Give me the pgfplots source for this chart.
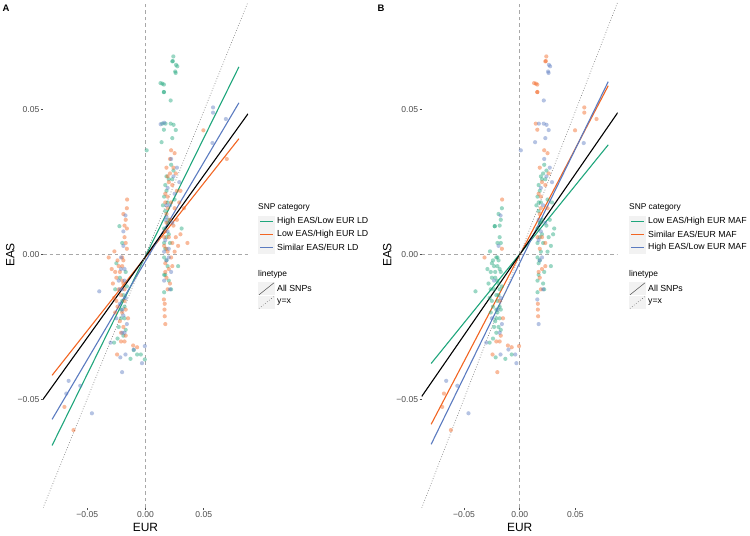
\documentclass[border=0pt]{standalone}
\usepackage{pgfplots}
\pgfplotsset{compat=1.18}
\usepackage{fontspec}
\setmainfont{Liberation Sans}
\definecolor{mygreen}{HTML}{1FA67C}
\definecolor{myorange}{HTML}{F26522}
\definecolor{myblue}{HTML}{5B7BC0}
\definecolor{tk}{HTML}{4D4D4D}
\definecolor{zl}{HTML}{A8A8A8}
\definecolor{kb}{HTML}{F2F2F2}
\pgfplotsset{
  panel/.style={
    scale only axis, anchor=south west,
    xmin=-0.088, xmax=0.088, ymin=-0.0875, ymax=0.0872,
    axis x line*=bottom, axis y line*=left,
    axis line style={draw=none},
    scaled ticks=false,
    xtick={-0.05,0,0.05}, xticklabels={−0.05,0.00,0.05},
    ytick={-0.05,0,0.05}, yticklabels={−0.05,0.00,0.05},
    tick align=outside, major tick length=2.2bp,
    tick style={color=tk, line width=0.5bp},
    ticklabel style={font=\fontsize{8.6}{10}\selectfont, text=tk},
    yticklabel style={inner sep=1.2bp},
    xticklabel style={inner sep=1.5bp},
    xlabel={EUR}, ylabel={EAS},
    label style={font=\fontsize{12}{14}\selectfont},
    xlabel style={at={(axis description cs:0.5,-0.038)}, anchor=center},
    pts/.style={only marks, mark=*, mark size=2.1bp, mark options={draw opacity=0, fill opacity=0.45}},
    fitl/.style={line width=1.1bp},
    zero/.style={color=zl, line width=0.5bp, dash pattern=on 3.5bp off 3bp},
    idl/.style={color=black!45, line width=0.7bp, dash pattern=on 0.8bp off 1.8bp},
  },
}
\newcommand{\legtitle}[3]{\node[anchor=west, inner sep=0, font=\fontsize{8.4}{10}\selectfont] at (#1bp,#2bp) {#3};}
\newcommand{\legtext}[3]{\node[anchor=west, inner sep=0, font=\fontsize{8.8}{10}\selectfont] at (#1bp,#2bp) {#3};}
\begin{document}
\begin{tikzpicture}
\useasboundingbox (0,0) rectangle (750bp,536bp);
% ---------------- Panel A ----------------
\begin{axis}[panel, at={(43bp,28bp)}, width=205bp, height=506bp,
  ylabel style={at={(axis description cs:-0.16,0.5)}, anchor=center}]
\addplot[zero] coordinates {(0,-0.0875) (0,0.0872)};
\addplot[zero] coordinates {(-0.088,0) (0.088,0)};
% green: High EAS/Low EUR LD
\addplot[pts, mygreen] coordinates {
(0.0239,0.0684)(0.023,0.0667)(0.0235,0.0668)(0.0273,0.065)(0.0262,0.0655)(0.0259,0.0627)(0.0255,0.0632)
(0.0129,0.0592)(0.0145,0.059)(0.0158,0.0587)(0.0158,0.0561)(0.0158,0.0561)(0.0216,0.0532)
(0.0144,0.0452)(0.0172,0.0452)(0.0216,0.0452)(0.0241,0.0448)(0.0158,0.0431)(0.026,0.043)(0.023,0.0402)(0.0138,0.0388)(0.001,0.036)
(0.022,0.031)(0.024,0.029)(0.02,0.026)(0.018,0.022)(0.016,0.02)(0.019,0.018)(0.017,0.015)(0.02,0.012)(0.016,0.009)
(0.018,0.006)(0.021,0.004)(0.017,0.002)(0.016,-0.001)(0.019,-0.004)(0.017,-0.007)(0.02,-0.009)(0.022,-0.012)(0.016,-0.013)
(0.031,0.009)(0.028,-0.004)(0.016,-0.007)
(0.017,0.024)(0.018,0.027)(0.015,0.017)(0.019,0.011)(0.016,0.004)(0.018,-0.002)(0.02,0.007)(0.025,0.019)(0.023,0.026)
(-0.0224,0.0098)(-0.02,0.004)(-0.025,-0.003)(-0.022,-0.008)(-0.019,-0.014)(-0.018,-0.018)(-0.021,-0.022)(-0.017,-0.026)
(-0.024,-0.029)(-0.02,-0.016)(-0.016,-0.011)
(-0.021,-0.019)(-0.019,-0.028)(-0.023,-0.025)(-0.018,-0.022)(-0.026,-0.012)(-0.017,-0.006)
(-0.027,-0.0304)(-0.0072,-0.0345)(-0.0101,-0.033)(-0.0006,-0.0362)(-0.004,-0.0345)(-0.0129,-0.036)
};
% orange: Low EAS/High EUR LD
\addplot[pts, myorange] coordinates {
(0.022,0.036)(0.025,0.035)(0.021,0.033)(0.024,0.03)(0.026,0.028)(0.02,0.025)(0.023,0.024)(0.027,0.022)(0.019,0.02)
(0.022,0.018)(0.025,0.016)(0.018,0.014)(0.021,0.012)(0.024,0.01)(0.017,0.008)(0.02,0.006)(0.023,0.004)(0.016,0.003)
(0.019,0.001)(0.022,-0.001)(0.017,-0.003)(0.02,-0.005)(0.018,-0.008)(0.021,-0.01)(0.0158,-0.0155)(0.0163,-0.019)
(0.0165,-0.0213)(0.017,-0.024)(0.036,0.004)(0.03,0.007)(0.028,0.003)(0.033,0.016)(0.03,0.022)(0.0497,0.0429)(0.0698,0.033)(0.027,0.012)
(0.018,0.03)(0.019,0.027)(0.017,0.018)(0.019,0.016)(0.018,0.011)(0.016,0.006)(0.018,0.002)(0.017,-0.006)(0.019,-0.012)
(0.023,-0.004)(0.026,0.006)(0.025,0.001)(0.029,0.018)(0.021,0.028)(0.017,0.021)(0.0165,-0.017)
(-0.0158,0.019)(-0.016,0.016)(-0.017,0.012)(-0.016,0.009)(-0.018,0.006)(-0.0267,0.0011)(-0.0316,-0.001)(-0.024,-0.002)
(-0.02,-0.004)(-0.022,-0.006)(-0.025,-0.008)(-0.019,-0.01)(-0.023,-0.012)(-0.021,-0.014)(-0.018,-0.016)(-0.024,-0.018)
(-0.02,-0.02)(-0.022,-0.023)(-0.019,-0.025)(-0.017,-0.028)(-0.021,-0.03)(-0.026,-0.006)(-0.028,-0.01)(-0.027,-0.015)
(-0.015,-0.022)(-0.016,0.002)
(-0.019,0.014)(-0.018,0.01)(-0.017,0.004)(-0.019,-0.002)(-0.018,-0.012)(-0.017,-0.019)(-0.02,-0.009)(-0.023,-0.004)
(-0.021,-0.027)(-0.025,-0.016)(-0.029,-0.005)(-0.026,-0.02)(-0.018,-0.03)(-0.02,-0.001)
(-0.0106,-0.0314)(-0.0072,-0.032)(-0.0244,-0.0345)
(-0.0696,-0.0526)(-0.0618,-0.0606)
};
% blue: Similar EAS/EUR LD
\addplot[pts, myblue] coordinates {
(0.022,0.033)(0.024,0.027)(0.019,0.023)(0.021,0.017)(0.018,0.013)(0.023,0.011)(0.017,0.005)(0.02,0.002)(0.018,-0.002)
(0.022,-0.006)(0.016,-0.009)(0.021,-0.012)(0.013,0.045)(0.016,0.0455)(0.027,0.03)(0.029,0.025)
(0.017,0.012)(0.019,0.008)(0.018,0.017)(0.02,-0.001)(0.016,0.001)(0.025,0.021)
(0.058,0.0508)(0.058,0.049)(0.069,0.0468)(0.0575,0.0385)
(-0.0172,0.0135)(-0.019,0.003)(-0.021,-0.001)(-0.018,-0.005)(-0.023,-0.009)(-0.02,-0.012)(-0.017,-0.015)(-0.022,-0.017)
(-0.019,-0.021)(-0.016,-0.024)(-0.02,-0.027)(-0.0397,-0.0127)(-0.025,-0.022)
(-0.018,-0.009)(-0.021,-0.005)(-0.02,-0.019)(-0.018,-0.027)(-0.022,-0.012)(-0.019,0.008)
(-0.030,-0.0304)(-0.0216,-0.0355)(-0.0172,-0.0345)(-0.0101,-0.0328)(-0.0006,-0.0316)(-0.0201,-0.0406)(-0.003,-0.0375)
(-0.066,-0.0436)(-0.068,-0.048)(-0.056,-0.0453)(-0.046,-0.0548)
};
\addplot[fitl, mygreen] coordinates {(-0.0802,-0.0659) (0.0802,0.0648)};
\addplot[fitl, myorange] coordinates {(-0.0802,-0.0417) (0.0802,0.0400)};
\addplot[fitl, myblue] coordinates {(-0.0802,-0.0569) (0.0802,0.0524)};
\addplot[fitl, black] coordinates {(-0.088,-0.0500) (0.088,0.0486)};
\addplot[idl] coordinates {(-0.088,-0.0875) (0.088,0.0872)};
\end{axis}
% ---------------- Panel B ----------------
\begin{axis}[panel, at={(421.7bp,28bp)}, width=196bp, height=506bp,
  ylabel style={at={(axis description cs:-0.176,0.5)}, anchor=center}]
\addplot[zero] coordinates {(0,-0.0875) (0,0.0872)};
\addplot[zero] coordinates {(-0.088,0) (0.088,0)};
% green: Low EAS/High EUR MAF
\addplot[pts, mygreen] coordinates {
(-0.0224,0.0098)(-0.02,0.004)(-0.025,-0.003)(-0.022,-0.008)(-0.019,-0.014)(-0.018,-0.018)(-0.021,-0.022)(-0.017,-0.026)
(-0.024,-0.029)(-0.02,-0.016)(-0.016,-0.011)(-0.016,0.016)(-0.017,0.012)(-0.018,0.006)(-0.024,-0.002)(-0.02,-0.004)
(-0.022,-0.006)(-0.025,-0.008)(-0.019,-0.01)(-0.023,-0.012)(-0.021,-0.014)(-0.024,-0.018)(-0.02,-0.02)(-0.022,-0.023)
(-0.019,-0.025)(-0.026,-0.006)(-0.028,-0.01)(-0.027,-0.015)(-0.0397,-0.0127)(-0.0267,0.0011)(-0.018,-0.005)(-0.021,-0.001)
(-0.019,0.014)(-0.018,0.01)(-0.017,0.004)(-0.019,-0.002)(-0.018,-0.012)(-0.017,-0.019)(-0.02,-0.009)(-0.023,-0.004)
(-0.021,-0.027)(-0.025,-0.016)(-0.029,-0.005)(-0.026,-0.02)(-0.02,-0.001)(-0.021,-0.019)(-0.023,-0.025)(-0.018,-0.022)
(-0.026,-0.012)(-0.017,-0.006)(-0.0224,0.0098)
(0.022,0.031)(0.024,0.029)(0.018,0.022)(0.016,0.02)(0.017,0.015)(0.016,0.009)(0.021,0.004)(0.016,-0.001)(0.017,-0.007)
(0.022,-0.012)(0.019,0.001)(0.017,-0.003)(0.021,-0.01)(0.024,0.01)(0.028,0.003)(0.027,0.012)(0.03,0.007)(0.022,-0.006)
(0.016,-0.009)(0.02,0.026)(0.019,0.018)(0.02,0.012)(0.018,0.006)(0.031,0.009)(0.028,-0.004)(0.016,-0.013)
(0.017,0.024)(0.015,0.017)(0.019,0.011)(0.016,0.004)(0.018,-0.002)(0.02,0.007)(0.025,0.019)(0.023,0.026)(0.019,0.027)
(0.017,0.018)(0.018,0.011)(0.026,0.006)(0.025,0.001)(0.029,0.018)(0.021,0.028)
(-0.027,-0.0304)(-0.0216,-0.0355)(-0.0129,-0.036)(-0.0072,-0.0345)
};
% orange: Similar EAS/EUR MAF
\addplot[pts, myorange] coordinates {
(0.0239,0.0684)(0.023,0.0667)(0.0235,0.0668)(0.0129,0.0592)(0.0145,0.059)(0.0158,0.0587)(0.0158,0.0561)(0.0158,0.0561)
(0.0144,0.0452)(0.0158,0.0431)
(0.022,0.036)(0.025,0.035)(0.026,0.028)(0.02,0.025)(0.023,0.024)(0.019,0.02)(0.025,0.016)(0.018,0.014)(0.02,0.006)
(0.023,0.004)(0.02,-0.005)(0.018,-0.008)(0.0163,-0.019)(0.0165,-0.0213)(0.0163,-0.017)
(0.018,0.03)(0.019,0.016)(0.016,0.006)(0.018,0.002)(0.017,-0.006)(0.019,-0.012)(0.023,-0.004)(0.017,0.021)
(0.058,0.0508)(0.058,0.049)(0.0497,0.0429)(0.069,0.0468)
(-0.0158,0.019)(-0.016,0.002)(-0.0316,-0.001)(-0.018,-0.016)(-0.017,-0.028)(-0.021,-0.03)(-0.015,-0.022)(-0.018,-0.03)
(-0.0106,-0.0314)(-0.0072,-0.032)(-0.0244,-0.0345)(-0.0006,-0.0316)
(-0.0696,-0.0526)(-0.0618,-0.0606)(-0.068,-0.048)(-0.0201,-0.0406)
};
% blue: High EAS/Low EUR MAF
\addplot[pts, myblue] coordinates {
(0.0273,0.065)(0.0262,0.0655)(0.0259,0.0627)(0.0255,0.0632)(0.0216,0.0532)(0.0172,0.0452)(0.0216,0.0452)(0.0241,0.0448)
(0.026,0.043)(0.023,0.0402)(0.0138,0.0388)(0.001,0.036)
(0.022,0.033)(0.024,0.027)(0.019,0.023)(0.021,0.017)(0.023,0.011)(0.017,0.005)(0.018,-0.002)(0.021,-0.012)(0.027,0.03)
(0.029,0.025)(0.0158,-0.0155)(0.017,-0.024)(0.0575,0.0385)(0.017,0.012)(0.019,0.008)(0.02,-0.001)
(-0.0172,0.0135)(-0.019,0.003)(-0.023,-0.009)(-0.017,-0.015)(-0.016,-0.024)(-0.025,-0.022)(-0.02,-0.019)(-0.018,-0.027)
(-0.030,-0.0304)(-0.0172,-0.0345)(-0.0101,-0.0328)(-0.003,-0.0375)(-0.004,-0.0345)
(-0.066,-0.0436)(-0.056,-0.0453)(-0.046,-0.0548)
};
\addplot[fitl, mygreen] coordinates {(-0.0795,-0.0376) (0.0795,0.0379)};
\addplot[fitl, myorange] coordinates {(-0.0795,-0.0586) (0.0795,0.0583)};
\addplot[fitl, myblue] coordinates {(-0.0795,-0.0655) (0.0795,0.0597)};
\addplot[fitl, black] coordinates {(-0.088,-0.0490) (0.088,0.0490)};
\addplot[idl] coordinates {(-0.088,-0.0875) (0.088,0.0872)};
\end{axis}
% ---------------- panel tags ----------------
\node[font=\fontsize{9.5}{11}\selectfont\bfseries] at (6bp,528bp) {A};
\node[font=\fontsize{9.5}{11}\selectfont\bfseries] at (381bp,528bp) {B};
% ---------------- legend keys ----------------
\foreach \lx in {258,629} {
  \fill[kb] (\lx bp,308.2bp) rectangle (\lx bp+17bp,320.4bp);
  \fill[kb] (\lx bp,295.3bp) rectangle (\lx bp+17bp,307.5bp);
  \fill[kb] (\lx bp,282.4bp) rectangle (\lx bp+17bp,294.6bp);
  \fill[kb] (\lx bp,240.9bp) rectangle (\lx bp+17bp,253.5bp);
  \fill[kb] (\lx bp,227.3bp) rectangle (\lx bp+17bp,239.9bp);
  \fill[mygreen]  (\lx bp+2bp,313.5bp) rectangle (\lx bp+15bp,315.1bp);
  \fill[myorange] (\lx bp+2bp,300.6bp) rectangle (\lx bp+15bp,302.2bp);
  \fill[myblue]   (\lx bp+2bp,287.7bp) rectangle (\lx bp+15bp,289.3bp);
  \draw[black!60, line width=0.6bp] (\lx bp+1bp,241.2bp) -- (\lx bp+16bp,253.2bp);
  \draw[black!60, line width=0.6bp, dotted] (\lx bp+1bp,227.6bp) -- (\lx bp+16bp,239.6bp);
  \legtitle{\lx}{328.3}{SNP category}
  \legtitle{\lx}{261.2}{linetype}
}
% ---------------- legend A ----------------
\legtext{277}{314.3}{High EAS/Low EUR LD}
\legtext{277}{301.4}{Low EAS/High EUR LD}
\legtext{277}{288.5}{Similar EAS/EUR LD}
\legtext{277}{247.2}{All SNPs}
\legtext{277}{233.6}{y=x}
% ---------------- legend B ----------------
\legtext{648}{314.3}{Low EAS/High EUR MAF}
\legtext{648}{301.4}{Similar EAS/EUR MAF}
\legtext{648}{288.5}{High EAS/Low EUR MAF}
\legtext{648}{247.2}{All SNPs}
\legtext{648}{233.6}{y=x}
\end{tikzpicture}
\end{document}
